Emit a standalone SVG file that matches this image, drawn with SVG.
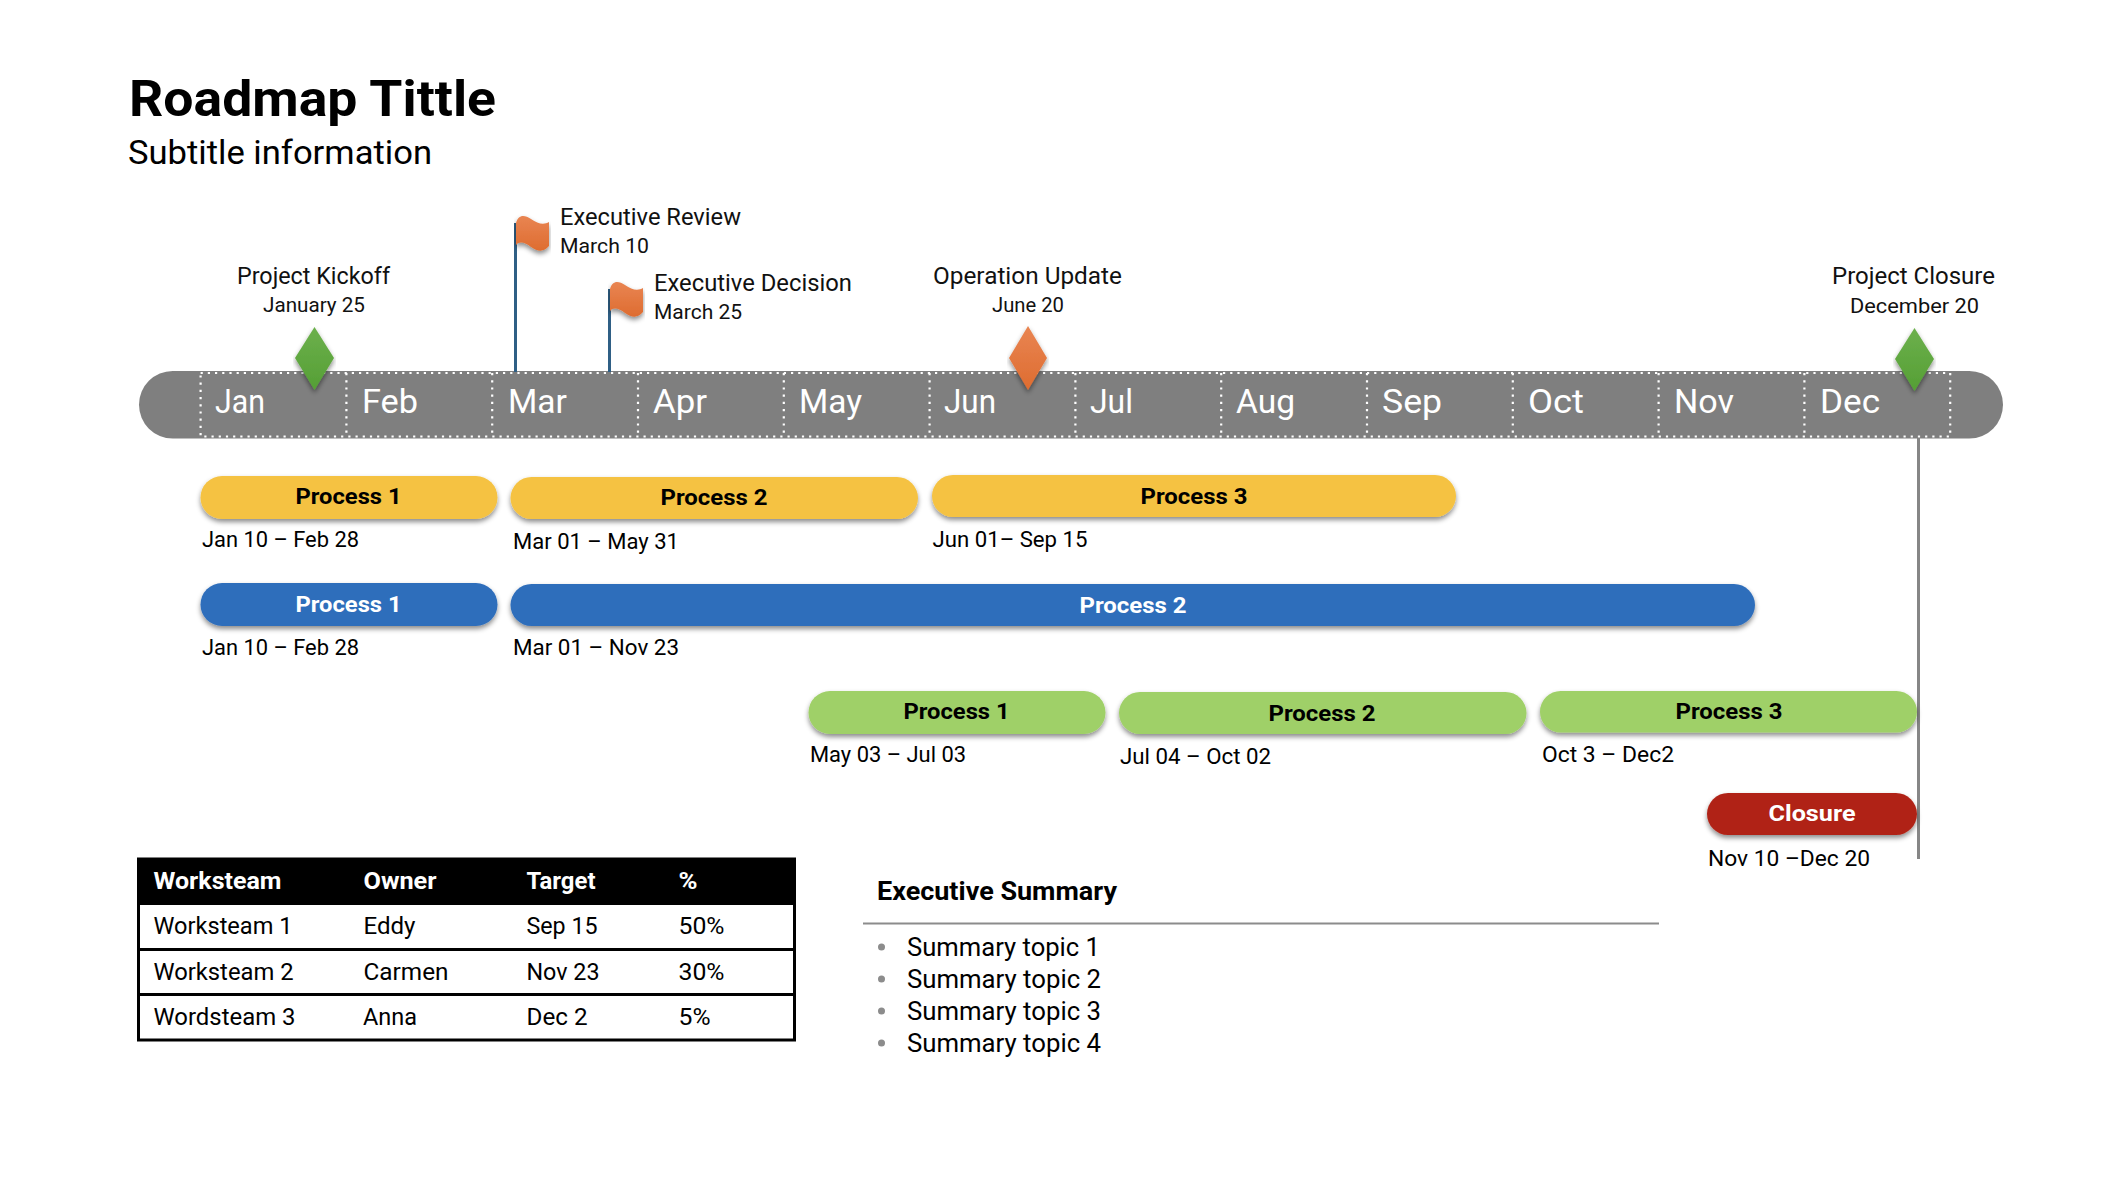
<svg xmlns="http://www.w3.org/2000/svg" width="2124" height="1184" viewBox="0 0 2124 1184">
<style>
text{font-family:Roboto,"Noto Sans","Liberation Sans",sans-serif;fill:#000}
.title{font-size:50px;font-weight:700}
.sub{font-size:33px}
.ms{font-size:23px;fill:#111}
.md{font-size:20px;fill:#111}
.mon{font-size:33px;fill:#fff}
.bl{font-size:22px;font-weight:700;text-anchor:middle}
.bl.wl{fill:#fff}
.dt{font-size:22px}
.th{font-size:23px;font-weight:700;fill:#fff}
.td{font-size:23px}
.es{font-size:25px;font-weight:700}
.li{font-size:26px}
.dot{fill:none;stroke:#fff;stroke-width:2.2;stroke-dasharray:2.2 5}
.pole{stroke:#2f5f85;stroke-width:3;fill:none}
.tl{stroke:#000;stroke-width:3;fill:none}
.y{fill:#f5c242}.b{fill:#2f6ebb}.g{fill:#9fd067}.r{fill:#b02418}
</style>
<defs>
<filter id="sh" x="-5%" y="-30%" width="110%" height="170%"><feDropShadow dx="0" dy="3" stdDeviation="2.5" flood-color="#000" flood-opacity=".45"/></filter>
<linearGradient id="gd" x1="0" y1="0" x2="0" y2="1"><stop offset="0" stop-color="#6cb04c"/><stop offset="1" stop-color="#559f35"/></linearGradient>
<linearGradient id="od" x1="0" y1="0" x2="0" y2="1"><stop offset="0" stop-color="#e98552"/><stop offset="1" stop-color="#de6c30"/></linearGradient>
<path id="flag" d="M0 7C2 -1 8 -2 15 3C22 8 28 9 33 6V30C28 36 22 36 15 31C9 26 3 25 0 29Z" fill="url(#od)" filter="url(#sh)"/>
</defs>
<rect width="2124" height="1184" fill="#fff"/>
<g id="heading">
<text class="title" x="129" y="116" textLength="367" lengthAdjust="spacingAndGlyphs">Roadmap Tittle</text>
<text class="sub" x="128" y="164" textLength="304" lengthAdjust="spacingAndGlyphs">Subtitle information</text>
</g>
<g id="timeline">
<rect x="139" y="371" width="1864" height="67.500" rx="33.700" fill="#7f7f7f"/>
<rect class="dot" x="200.600" y="373" width="1749.600" height="63.500"/>
<path class="dot" d="M346.400 373V436M492.200 373V436M638 373V436M783.800 373V436M929.600 373V436M1075.400 373V436M1221.200 373V436M1367 373V436M1512.800 373V436M1658.600 373V436M1804.400 373V436"/>
<text class="mon" x="215" y="413" textLength="50" lengthAdjust="spacingAndGlyphs">Jan</text>
<text class="mon" x="362" y="413" textLength="56" lengthAdjust="spacingAndGlyphs">Feb</text>
<text class="mon" x="508" y="413" textLength="59" lengthAdjust="spacingAndGlyphs">Mar</text>
<text class="mon" x="653" y="413" textLength="54" lengthAdjust="spacingAndGlyphs">Apr</text>
<text class="mon" x="799" y="413" textLength="63" lengthAdjust="spacingAndGlyphs">May</text>
<text class="mon" x="944" y="413" textLength="52" lengthAdjust="spacingAndGlyphs">Jun</text>
<text class="mon" x="1090" y="413" textLength="43" lengthAdjust="spacingAndGlyphs">Jul</text>
<text class="mon" x="1236" y="413" textLength="59" lengthAdjust="spacingAndGlyphs">Aug</text>
<text class="mon" x="1382" y="413" textLength="60" lengthAdjust="spacingAndGlyphs">Sep</text>
<text class="mon" x="1528" y="413" textLength="56" lengthAdjust="spacingAndGlyphs">Oct</text>
<text class="mon" x="1674" y="413" textLength="60" lengthAdjust="spacingAndGlyphs">Nov</text>
<text class="mon" x="1820" y="413" textLength="60" lengthAdjust="spacingAndGlyphs">Dec</text>
</g>
<g id="connectors">
<path class="pole" d="M515.500 223V372"/>
<path class="pole" d="M609.500 289V372"/>
<path d="M1918.500 438V859" fill="none" stroke="#868686" stroke-width="3"/>
</g>
<g id="m-kickoff">
<path d="M314.500 327L334 358L314.500 390L295 358Z" fill="url(#gd)" filter="url(#sh)"/>
<text class="ms" x="237" y="284" textLength="153" lengthAdjust="spacingAndGlyphs">Project Kickoff</text>
<text class="md" x="263" y="312" textLength="102" lengthAdjust="spacingAndGlyphs">January 25</text>
</g>
<g id="m-review">
<use href="#flag" x="516" y="216"/>
<text class="ms" x="560" y="225" textLength="181" lengthAdjust="spacingAndGlyphs">Executive Review</text>
<text class="md" x="560" y="253" textLength="89" lengthAdjust="spacingAndGlyphs">March 10</text>
</g>
<g id="m-decision">
<use href="#flag" x="610" y="282"/>
<text class="ms" x="654" y="291" textLength="198" lengthAdjust="spacingAndGlyphs">Executive Decision</text>
<text class="md" x="654" y="319" textLength="88" lengthAdjust="spacingAndGlyphs">March 25</text>
</g>
<g id="m-update">
<path d="M1028 326L1047 358L1028 390L1009 358Z" fill="url(#od)" filter="url(#sh)"/>
<text class="ms" x="933" y="284" textLength="189" lengthAdjust="spacingAndGlyphs">Operation Update</text>
<text class="md" x="992" y="312" textLength="72" lengthAdjust="spacingAndGlyphs">June 20</text>
</g>
<g id="m-closure">
<path d="M1914.500 328L1934 359L1914.500 391L1895 359Z" fill="url(#gd)" filter="url(#sh)"/>
<text class="ms" x="1832" y="284" textLength="163" lengthAdjust="spacingAndGlyphs">Project Closure</text>
<text class="md" x="1850" y="313" textLength="129" lengthAdjust="spacingAndGlyphs">December 20</text>
</g>
<g id="y1"><rect class="y" x="200.500" y="476" width="297" height="43" rx="21.500" filter="url(#sh)"/><text class="bl" x="348.500" y="504" textLength="106" lengthAdjust="spacingAndGlyphs">Process 1</text><text class="dt" x="202" y="547" textLength="157" lengthAdjust="spacingAndGlyphs">Jan 10 – Feb 28</text></g>
<g id="y2"><rect class="y" x="510.500" y="477" width="407.500" height="42" rx="21" filter="url(#sh)"/><text class="bl" x="714" y="505" textLength="107" lengthAdjust="spacingAndGlyphs">Process 2</text><text class="dt" x="513" y="549" textLength="166" lengthAdjust="spacingAndGlyphs">Mar 01 – May 31</text></g>
<g id="y3"><rect class="y" x="932" y="475" width="524" height="42" rx="21" filter="url(#sh)"/><text class="bl" x="1194" y="503.500" textLength="107" lengthAdjust="spacingAndGlyphs">Process 3</text><text class="dt" x="932.500" y="547" textLength="155" lengthAdjust="spacingAndGlyphs">Jun 01– Sep 15</text></g>
<g id="b1"><rect class="b" x="200.500" y="583" width="297" height="43" rx="21.500" filter="url(#sh)"/><text class="bl wl" x="348.500" y="612" textLength="106" lengthAdjust="spacingAndGlyphs">Process 1</text><text class="dt" x="202" y="655" textLength="157" lengthAdjust="spacingAndGlyphs">Jan 10 – Feb 28</text></g>
<g id="b2"><rect class="b" x="510.500" y="584" width="1244.500" height="42" rx="21" filter="url(#sh)"/><text class="bl wl" x="1133" y="613" textLength="107" lengthAdjust="spacingAndGlyphs">Process 2</text><text class="dt" x="513" y="655" textLength="166" lengthAdjust="spacingAndGlyphs">Mar 01 – Nov 23</text></g>
<g id="g1"><rect class="g" x="808.500" y="691" width="297" height="43" rx="21.500" filter="url(#sh)"/><text class="bl" x="956.500" y="719" textLength="106" lengthAdjust="spacingAndGlyphs">Process 1</text><text class="dt" x="810" y="762" textLength="156" lengthAdjust="spacingAndGlyphs">May 03 – Jul 03</text></g>
<g id="g2"><rect class="g" x="1119" y="692" width="407.500" height="42" rx="21" filter="url(#sh)"/><text class="bl" x="1322" y="721" textLength="107" lengthAdjust="spacingAndGlyphs">Process 2</text><text class="dt" x="1120" y="764" textLength="151" lengthAdjust="spacingAndGlyphs">Jul 04 – Oct 02</text></g>
<g id="g3"><rect class="g" x="1540" y="691" width="377" height="41.500" rx="20.700" filter="url(#sh)"/><text class="bl" x="1729" y="719" textLength="107" lengthAdjust="spacingAndGlyphs">Process 3</text><text class="dt" x="1542" y="762" textLength="132" lengthAdjust="spacingAndGlyphs">Oct 3 – Dec2</text></g>
<g id="closure"><rect class="r" x="1707" y="793" width="210" height="42" rx="21" filter="url(#sh)"/><text class="bl wl" x="1812" y="821" textLength="87" lengthAdjust="spacingAndGlyphs">Closure</text><text class="dt" x="1708" y="865.500" textLength="162" lengthAdjust="spacingAndGlyphs">Nov 10 –Dec 20</text></g>
<g id="table">
<rect x="137" y="858" width="658.500" height="47" fill="#000"/>
<rect class="tl" x="138.500" y="859" width="656" height="181"/>
<path class="tl" d="M138 949.500H795M138 994.500H795"/>
<text class="th" x="153.500" y="889" textLength="128" lengthAdjust="spacingAndGlyphs">Worksteam</text>
<text class="th" x="363.500" y="889" textLength="73" lengthAdjust="spacingAndGlyphs">Owner</text>
<text class="th" x="526.500" y="889" textLength="69" lengthAdjust="spacingAndGlyphs">Target</text>
<text class="th" x="678.500" y="889" textLength="19" lengthAdjust="spacingAndGlyphs">%</text>
<text class="td" x="153.500" y="934" textLength="139" lengthAdjust="spacingAndGlyphs">Worksteam 1</text>
<text class="td" x="363.500" y="934" textLength="52" lengthAdjust="spacingAndGlyphs">Eddy</text>
<text class="td" x="526.500" y="934" textLength="71" lengthAdjust="spacingAndGlyphs">Sep 15</text>
<text class="td" x="678.500" y="934" textLength="46" lengthAdjust="spacingAndGlyphs">50%</text>
<text class="td" x="153.500" y="980" textLength="140" lengthAdjust="spacingAndGlyphs">Worksteam 2</text>
<text class="td" x="363.500" y="980" textLength="85" lengthAdjust="spacingAndGlyphs">Carmen</text>
<text class="td" x="526.500" y="980" textLength="73" lengthAdjust="spacingAndGlyphs">Nov 23</text>
<text class="td" x="678.500" y="980" textLength="46" lengthAdjust="spacingAndGlyphs">30%</text>
<text class="td" x="153.500" y="1025" textLength="142" lengthAdjust="spacingAndGlyphs">Wordsteam 3</text>
<text class="td" x="363" y="1025" textLength="54" lengthAdjust="spacingAndGlyphs">Anna</text>
<text class="td" x="526.500" y="1025" textLength="61" lengthAdjust="spacingAndGlyphs">Dec 2</text>
<text class="td" x="678.500" y="1025" textLength="32" lengthAdjust="spacingAndGlyphs">5%</text>
</g>
<g id="summary">
<text class="es" x="877" y="899.500" textLength="240" lengthAdjust="spacingAndGlyphs">Executive Summary</text>
<path d="M863 923.500H1659" stroke="#8c8c8c" stroke-width="2" fill="none"/>
<g fill="#8c8c8c"><circle cx="881.500" cy="947" r="3.500"/><circle cx="881.500" cy="979" r="3.500"/><circle cx="881.500" cy="1011" r="3.500"/><circle cx="881.500" cy="1043" r="3.500"/></g>
<text class="li" x="907" y="956" textLength="193" lengthAdjust="spacingAndGlyphs">Summary topic 1</text>
<text class="li" x="907" y="988" textLength="194" lengthAdjust="spacingAndGlyphs">Summary topic 2</text>
<text class="li" x="907" y="1020" textLength="194" lengthAdjust="spacingAndGlyphs">Summary topic 3</text>
<text class="li" x="907" y="1052" textLength="194" lengthAdjust="spacingAndGlyphs">Summary topic 4</text>
</g>
</svg>
